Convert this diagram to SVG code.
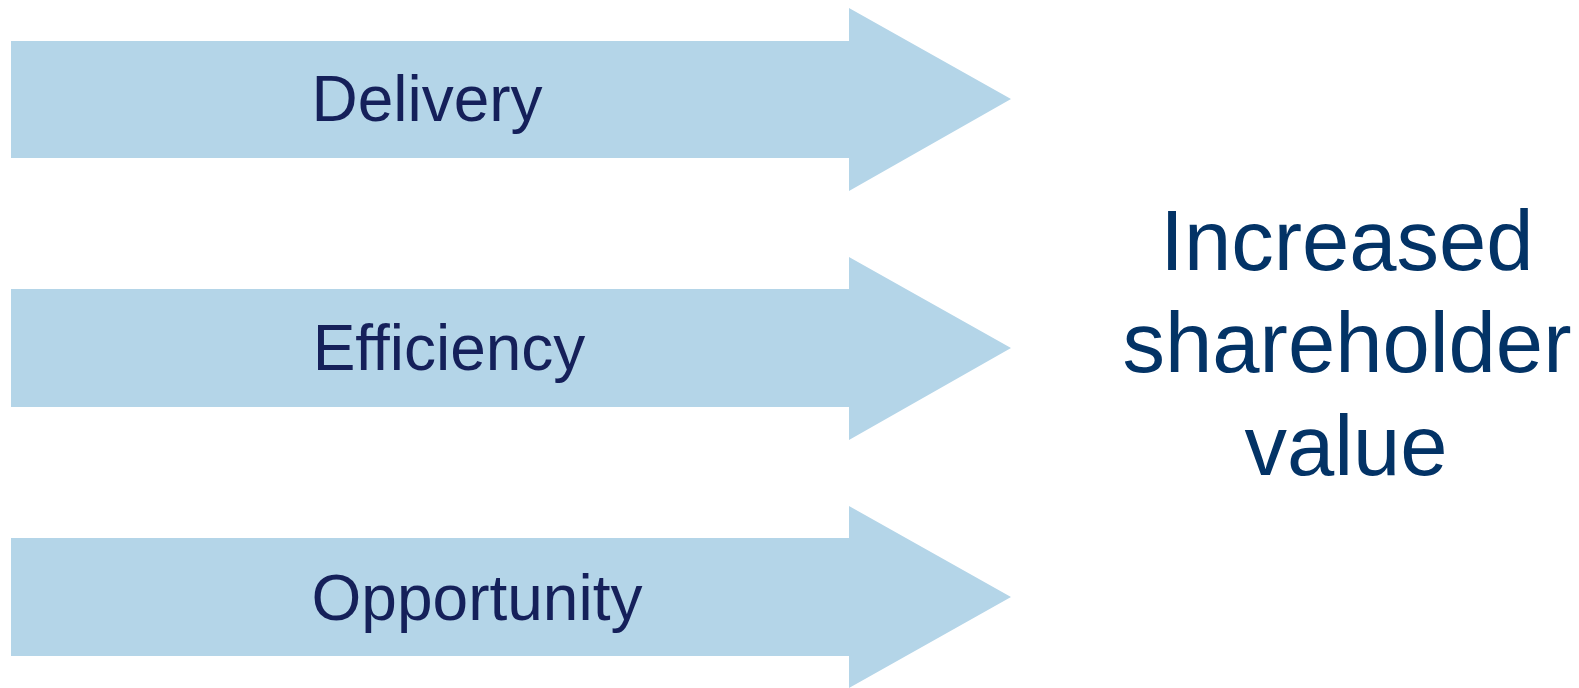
<svg xmlns="http://www.w3.org/2000/svg" width="1579" height="688" viewBox="0 0 1579 688">
<style>
.arrow{fill:#b4d5e8}
.lbl{font-family:"Liberation Sans",Arial,sans-serif;font-size:64px;fill:#15205a;text-anchor:middle}
.res{font-family:"Liberation Sans",Arial,sans-serif;font-size:85px;fill:#033366;text-anchor:middle}
</style>
<rect width="1579" height="688" fill="#ffffff"/>
<g id="arrow-delivery">
<polygon class="arrow" points="11,41 849,41 849,8 1011,99 849,191 849,158 11,158"/>
<text class="lbl" x="427" y="121">Delivery</text>
</g>
<g id="arrow-efficiency">
<polygon class="arrow" points="11,289 849,289 849,257 1011,348 849,440 849,407 11,407"/>
<text class="lbl" x="449" y="370">Efficiency</text>
</g>
<g id="arrow-opportunity">
<polygon class="arrow" points="11,538 849,538 849,506 1011,597 849,688 849,656 11,656"/>
<text class="lbl" x="477" y="620">Opportunity</text>
</g>
<g id="result">
<text class="res" x="1347" y="270">Increased</text>
<text class="res" x="1347" y="372">shareholder</text>
<text class="res" x="1346" y="475">value</text>
</g>
<g id="connectors"></g>
</svg>
